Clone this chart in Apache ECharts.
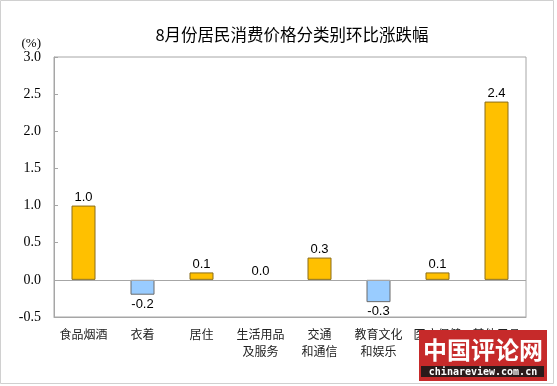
<!DOCTYPE html>
<html><head><meta charset="utf-8">
<script src="https://cdn.jsdelivr.net/npm/echarts@6/dist/echarts.min.js"></script>
<style>html,body{margin:0;padding:0;background:#fff;}#c{width:557px;height:386px;}</style>
</head><body><div id="c"></div>
<script>
var titleText = '8月份居民消费价格分类别环比涨跌幅';
var unitText = '(%)';
var categories = ['食品烟酒','衣着','居住','生活用品\n及服务','交通\n和通信','教育文化\n和娱乐','医疗保健','其他用品\n及服务'];
var values = [1.0, -0.2, 0.1, 0.0, 0.3, -0.3, 0.1, 2.4];
var yMin = -0.5, yMax = 3.0, yStep = 0.5;

var chart = echarts.init(document.getElementById('c'), null, {renderer:'canvas'});
var data = values.map(function(v){
  var neg = v < 0;
  var st = neg ? {color:'#99CCFF', borderColor:'#6b6b6b', borderWidth:1}
               : {color:'#FFC000', borderColor:'#8a6d1a', borderWidth:1};
  if (v === 0) st = {color:'transparent', borderWidth:0};
  return {
    value: v,
    itemStyle: st,
    label: {position: neg ? 'bottom' : 'top', distance: neg ? 3 : 2}
  };
});
chart.setOption({
  animation:false,
  backgroundColor:'#fff',
  title:{text:titleText, left:287, top:21, textAlign:'center',
    textStyle:{fontFamily:'Noto Sans CJK SC', fontSize:16.5, fontWeight:'normal', color:'#000'}},
  grid:{left:54, right:31, top:57, bottom:69, show:true, borderColor:'#a6a6a6', borderWidth:1, backgroundColor:'transparent'},
  xAxis:{type:'category', data:categories,
    axisLine:{onZero:false, lineStyle:{color:'#a6a6a6'}},
    axisTick:{show:false},
    axisLabel:{interval:0, margin:9, fontFamily:'Noto Sans CJK SC', fontSize:12, lineHeight:17, color:'#222'}},
  yAxis:{type:'value', min:yMin, max:yMax, interval:yStep,
    name:unitText, nameLocation:'end', nameGap:7,
    nameTextStyle:{fontFamily:'Liberation Serif', fontSize:13, color:'#000', align:'right', padding:[0,13,0,0]},
    splitLine:{show:false},
    axisLine:{show:true, lineStyle:{color:'#a6a6a6'}},
    axisTick:{show:true, inside:true, length:4, lineStyle:{color:'#a6a6a6'}},
    axisLabel:{margin:13, fontFamily:'Liberation Serif', fontSize:14, color:'#000',
      formatter:function(v){return v.toFixed(1);}}},
  series:[{type:'bar', data:data, barWidth:24,
    label:{show:true, fontFamily:'Liberation Sans', fontSize:13, color:'#000',
      formatter:function(p){return p.value.toFixed(1);}},
    markLine:{silent:true, symbol:'none', label:{show:false},
      lineStyle:{color:'#a6a6a6', type:'solid', width:1},
      data:[{yAxis:0}]}
  }],
  graphic:[
    {type:'rect', shape:{x:0.5, y:0.5, width:553, height:383}, style:{fill:'none', stroke:'#d0d0d0', lineWidth:1}, z:0},
    {type:'rect', shape:{x:419, y:330, width:128, height:51}, style:{fill:'#c62a2a'}, z:100},
    {type:'rect', shape:{x:421, y:366, width:123, height:11}, style:{fill:'#2a1a1a'}, z:101},
    {type:'text', x:483, y:350, style:{text:'中国评论网', fill:'#fff', font:'bold 24px "Noto Sans CJK SC"', align:'center', verticalAlign:'middle'}, z:102},
    {type:'text', x:483, y:372, style:{text:'chinareview.com.cn', fill:'#fff', font:'bold 10px "DejaVu Sans Mono"', align:'center', verticalAlign:'middle'}, z:102}
  ]
});
</script></body></html>
